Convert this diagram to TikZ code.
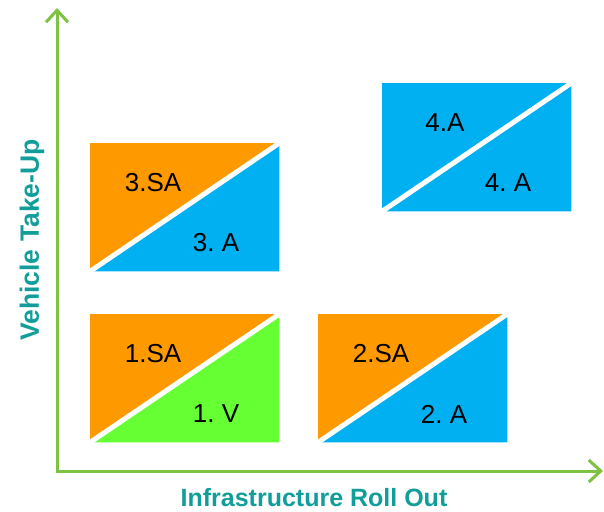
\documentclass[tikz,border=0pt]{standalone}
\usepackage{fontspec}
\setmainfont{Liberation Sans}
\usetikzlibrary{arrows.meta}
\frenchspacing
\definecolor{axisgreen}{HTML}{7DC242}
\definecolor{titleteal}{HTML}{119E9A}
\definecolor{boxorange}{HTML}{FF9900}
\definecolor{boxblue}{HTML}{00B0F0}
\definecolor{boxgreen}{HTML}{66FF33}
\tikzset{
  panel/.style={minimum width=189pt, minimum height=128pt, inner sep=0pt, anchor=north west},
  tag/.style={font=\fontsize{26}{26}\selectfont, inner sep=0pt},
  axislabel/.style={text=titleteal, font=\fontsize{25}{25}\selectfont\bfseries, inner sep=0pt},
  axisline/.style={axisgreen, line width=3pt,
    {Straight Barb[length=12pt,width=22pt]}-{Straight Barb[length=12pt,width=22pt]}},
}

\begin{document}
\begin{tikzpicture}[x=1pt,y=-1pt]%{{{
\useasboundingbox (0,0) rectangle (604,511);
%
% Axes
\coordinate (o)    at (57,471);
\coordinate (ytip) at (57,8);
\coordinate (xtip) at (603,471);
\draw [axisline] (ytip) -- (o) -- (xtip);
\node [axislabel] (xlab) at (314,498) {Infrastructure Roll Out};
\node [axislabel, rotate=90, font=\fontsize{26.5}{26.5}\selectfont\bfseries] (ylab) at (32,240) {Vehicle Take-Up};
%
% Boxes (upper / lower halves)
\foreach \n/\x/\y/\cu/\cl/\tu/\tl in {
      1/90/314/boxorange/boxgreen/1.SA/1. V,
      2/318/314/boxorange/boxblue/2.SA/2. A,
      3/90/143/boxorange/boxblue/3.SA/3. A,
      4/382/83/boxblue/boxblue/4.A/4. A}
{
  \node [panel] (b\n) at (\x,\y) {};
  \fill [\cu] (b\n.north west) -- (b\n.north east) -- (b\n.south west) -- cycle;
  \fill [\cl] (b\n.north east) -- (b\n.south east) -- (b\n.south west) -- cycle;
  \draw [white, line width=5pt] (b\n.south west) -- (b\n.north east);
  \node [tag] (u\n) at (\x+63,\y+40)  {\tu};
  \node [tag] (l\n) at (\x+126,\y+100) {\tl};
}
%
\end{tikzpicture}
\end{document}
